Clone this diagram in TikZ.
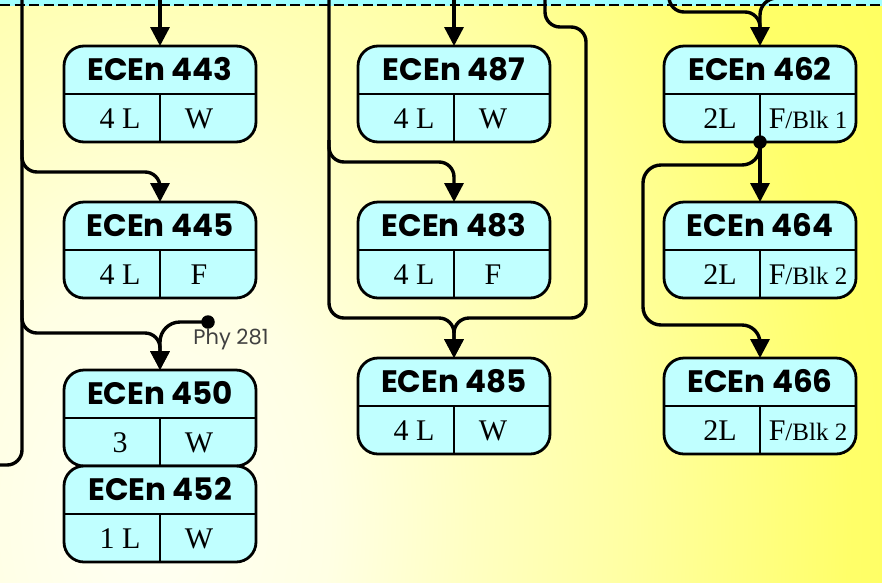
\documentclass[tikz,border=0pt]{standalone}
\usepackage{fontspec}
\setmainfont{Liberation Serif}
\newfontfamily\hdfont{Poppins}
\usetikzlibrary{arrows.meta,calc}
\definecolor{boxfill}{HTML}{C0FFFF}
\definecolor{stripc}{HTML}{A0FFFF}
\definecolor{bgA}{HTML}{FFFFF4}
\definecolor{bgB}{HTML}{FFFFE4}
\definecolor{bgC}{HTML}{FFFFC0}
\definecolor{bgD}{HTML}{FFFFA2}
\definecolor{bgE}{HTML}{FFFF68}
\definecolor{bgF}{HTML}{FFFF60}
\definecolor{phyc}{HTML}{404040}
\pgfdeclareradialshading{bgshade}{\pgfpoint{0bp}{0bp}}{color(0bp)=(bgA); color(6.4bp)=(bgB); color(11.8bp)=(bgC); color(17.1bp)=(bgD); color(25bp)=(bgE); color(30bp)=(bgF); color(50bp)=(bgF)}
\newcommand\smtxt[1]{{\fontsize{25}{25}\selectfont #1}}
\newcommand\course[7]{%
  \node[cbox] (#1) at (#2,#3) {};
  \draw[divl] (#1.west) -- (#1.east);
  \draw[divl] (#1.center) -- (#1.south);
  \node[htext] (#1-t) at ($(#1.north)+(0,34)$) {#4};
  \node[ctext] (#1-l) at ($(#1.center)+(-40,34)$) {#5};
  \node[ctext] (#1-r) at ($(#1.center)+(#7,34)$) {#6};
}
\tikzset{
  cbox/.style={draw, line width=2.8pt, fill=boxfill, rounded corners=20pt,
    minimum width=192pt, minimum height=96pt, inner sep=0pt, outer sep=0pt},
  divl/.style={line width=2.2pt},
  htext/.style={font=\hdfont\bfseries\fontsize{31}{31}\selectfont, anchor=base, inner sep=0pt},
  ctext/.style={font=\fontsize{30}{30}\selectfont, anchor=base, inner sep=0pt},
  conn/.style={line width=3.4pt, rounded corners=15pt},
  arr/.style={conn, -{Triangle[width=19pt,length=19pt]}},
  dotn/.style={circle, fill=black, inner sep=0pt, minimum size=13.5pt},
}
\begin{document}
\begin{tikzpicture}[x=1pt, y=-1pt]
\useasboundingbox (0,0) rectangle (882,582);
% background
\begin{scope}
  \clip (0,0) rectangle (882,582);
  \fill[bgD] (0,0) rectangle (882,582);
  \begin{pgfscope}
    \pgftransformshift{\pgfpoint{150pt}{-520pt}}
    \pgftransformyscale{1.375}
    \pgftransformscale{28}
    \pgflowlevelsynccm
    \pgfuseshading{bgshade}
  \end{pgfscope}
  \fill[stripc] (0,0) rectangle (882,5.5);
  \draw[line width=2pt, dash pattern=on 10pt off 4.5pt] (0,4.8) -- (882,4.8);
\end{scope}

% boxes
\course{b443}{160}{94}{ECEn 443}{4 L}{W}{39}
\course{b445}{160}{250}{ECEn 445}{4 L}{F}{39}
\course{b450}{160}{418}{ECEn 450}{3}{W}{39}
\course{b452}{160}{514}{ECEn 452}{1 L}{W}{39}
\course{b487}{454}{94}{ECEn 487}{4 L}{W}{39}
\course{b483}{454}{250}{ECEn 483}{4 L}{F}{39}
\course{b485}{454}{406}{ECEn 485}{4 L}{W}{39}
\course{b462}{760}{94}{ECEn 462}{2L}{F\smtxt{/Blk 1}}{48}
\course{b464}{760}{250}{ECEn 464}{2L}{F\smtxt{/Blk 2}}{48}
\course{b466}{760}{406}{ECEn 466}{2L}{F\smtxt{/Blk 2}}{48}

% free ends
\coordinate (s1) at (22,-5);
\coordinate (e1) at (-5,465);
\coordinate (s2) at (160,-5);
\coordinate (s3) at (454,-5);
\coordinate (s4) at (329,-5);
\coordinate (s5) at (545,-5);
\coordinate (s6) at (669,-5);
\coordinate (s7) at (800,-2);

% connectors
\draw[conn] (s1) -- (22,465) -- (e1);
\draw[arr] (22,140) -- (22,172) -- (160,172) -- (b445.north);
\draw[arr] (22,300) -- (22,333) -- (160,333) -- (b450.north);
\draw[arr] (s2) -- (b443.north);
\draw[arr] (s3) -- (b487.north);
\draw[arr] (s4) -- (329,318) -- (454,318) -- (b485.north);
\draw[arr] (329,140) -- (329,162) -- (454,162) -- (b483.north);
\draw[arr] (s5) -- (545,27) -- (586,27) -- (586,318) -- (454,318) -- (b485.north);
\draw[arr] (s6) -- (669,12) -- (760,12) -- (b462.north);
\draw[conn, rounded corners=17pt] (s7) -- (760,-2) -- (760,30);

% Phy 281
\node[dotn] (phy) at (208,322) {};
\node[font=\hdfont\fontsize{21}{21}\selectfont, text=phyc, inner sep=0pt] (phyl) at (231,339) {Phy 281};
\draw[arr, rounded corners=20pt] (phy.center) -- (160,322) -- (b450.north);

% ECEn 462 split
\node[dotn] (d462) at (b462.south) {};
\draw[arr] (d462.center) -- (b464.north);
\draw[arr, rounded corners=18pt] (d462.center) -- (760,165) -- (643,165) -- (643,325) -- (760,325) -- (b466.north);
\end{tikzpicture}
\end{document}
